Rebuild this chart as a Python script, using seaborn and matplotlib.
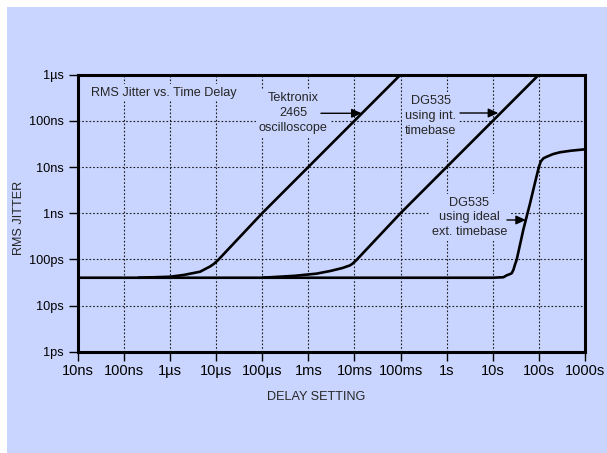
import numpy as np
import pandas as pd
import matplotlib
matplotlib.use("Agg")
import matplotlib.pyplot as plt
from matplotlib.patches import Rectangle
from matplotlib.ticker import FixedLocator, NullLocator
import seaborn as sns

# ---------------- data (seconds) ----------------
x_ticks = [1e-8, 1e-7, 1e-6, 1e-5, 1e-4, 1e-3, 1e-2, 1e-1, 1, 10, 100, 1000]
x_tick_labels = ["10ns", "100ns", "1µs", "10µs", "100µs", "1ms", "10ms",
                 "100ms", "1s", "10s", "100s", "1000s"]
y_ticks = [1e-12, 1e-11, 1e-10, 1e-9, 1e-8, 1e-7, 1e-6]
y_tick_labels = ["1ps", "10ps", "100ps", "1ns", "10ns", "100ns", "1µs"]

tek_delay = [2e-7, 1e-6, 2e-6, 4.5e-6, 7.4e-6, 9e-6, 1.1e-5, 1e-4, 1e-3, 0.1]
tek_jitter = [40e-12, 42e-12, 46e-12, 54e-12, 70e-12, 80e-12, 96e-12, 1e-9, 1e-8, 1e-6]

int_delay = [1e-4, 5e-4, 1.5e-3, 3e-3, 5.5e-3, 8e-3, 9e-3, 1.1e-2, 0.1, 1, 100]
int_jitter = [40e-12, 44e-12, 49e-12, 56e-12, 65e-12, 74e-12, 80e-12, 96e-12, 1e-9, 1e-8, 1e-6]

ext_delay = [1e-8, 10, 17, 20, 23.6, 25.7, 28, 30.2, 33, 46, 64, 89, 100,
             110, 126, 148, 200, 288, 500, 1000]
ext_jitter = [40e-12, 40e-12, 41e-12, 45e-12, 48e-12, 50e-12, 59e-12, 76e-12,
              98e-12, 0.44e-9, 1.6e-9, 6.3e-9, 10e-9, 13.2e-9, 15.5e-9,
              16.7e-9, 19e-9, 20.9e-9, 22.6e-9, 24.2e-9]

LAV = "#C9D5FE"

sns.set_style("ticks")
plt.rcParams["font.family"] = ["Liberation Sans", "DejaVu Sans"]

fig = plt.figure(figsize=(6.07, 4.53), dpi=100)
fig.patch.set_facecolor("white")
fig.add_artist(Rectangle((7 / 607, 0), 600 / 607, 446 / 453,
                         transform=fig.transFigure, facecolor=LAV,
                         edgecolor="none", zorder=0))

W, H = 607, 453
x0, x1, y0, y1 = 77.7, 585.0, 74.7, 351.7
ax = fig.add_axes([x0 / W, 1 - y1 / H, (x1 - x0) / W, (y1 - y0) / H])
ax.set_facecolor(LAV)

series = [
    (tek_delay, tek_jitter, "Tektronix 2465"),
    (int_delay, int_jitter, "DG535 int"),
    (ext_delay, ext_jitter, "DG535 ext"),
]
for d, j, name in series:
    df = pd.DataFrame({"delay": d, "jitter": j})
    sns.lineplot(data=df, x="delay", y="jitter", ax=ax, color="black",
                 linewidth=1.9, sort=False, estimator=None,
                 solid_capstyle="butt", solid_joinstyle="round", zorder=2)

ax.set_xscale("log")
ax.set_yscale("log")
ax.set_xlim(1e-8, 1e3)
ax.set_ylim(1e-12, 1e-6)

ax.xaxis.set_major_locator(FixedLocator(x_ticks))
ax.yaxis.set_major_locator(FixedLocator(y_ticks))
ax.xaxis.set_minor_locator(NullLocator())
ax.yaxis.set_minor_locator(NullLocator())
ax.set_xticklabels(x_tick_labels, fontsize=10.5)
ax.set_yticklabels(y_tick_labels, fontsize=9.2)
ax.tick_params(axis="x", direction="out", length=6.5, width=1.0, pad=2.5,
               colors="black")
ax.tick_params(axis="y", direction="out", length=6.3, width=1.0, pad=4.0,
               colors="black")

for s in ax.spines.values():
    s.set_visible(True)
    s.set_linewidth(2.2)
    s.set_color("black")

ax.set_axisbelow(True)
ax.grid(True, which="major", color="#1a1a1a", linestyle=(0, (1.5, 1.8)),
        linewidth=0.8)

ax.set_xlabel("DELAY SETTING", fontsize=9.1)
ax.set_ylabel("RMS JITTER", fontsize=9.1)
ax.xaxis.set_label_coords((316 - x0) / (x1 - x0), 1 - (396.7 - y0) / (y1 - y0))
ax.yaxis.set_label_coords((19 - x0) / (x1 - x0), 1 - (218.3 - y0) / (y1 - y0))
ax.xaxis.label.set_va("center")
ax.yaxis.label.set_va("center")

box = dict(facecolor=LAV, edgecolor="none", pad=2.0)
ax.text((90.7 - x0) / (x1 - x0), 1 - (92.7 - y0) / (y1 - y0),
        "RMS Jitter vs. Time Delay", transform=ax.transAxes, fontsize=9.1,
        ha="left", va="center", bbox=box, zorder=3)

ax.text(4.73e-4, 1.48e-7, "Tektronix\n2465\noscilloscope", fontsize=9.1,
        ha="center", va="center", multialignment="center", linespacing=1.33,
        bbox=box, zorder=3)
ax.text(0.451, 1.28e-7, "DG535\nusing int.\ntimebase", fontsize=9.1,
        ha="center", va="center", multialignment="center", linespacing=1.3,
        bbox=box, zorder=3)
ax.text(3.10, 8.07e-10, "DG535\nusing ideal\next. timebase", fontsize=9.1,
        ha="center", va="center", multialignment="center", linespacing=1.3,
        bbox=box, zorder=3)

arrow = dict(arrowstyle="-|>,head_length=0.6,head_width=0.27", color="black",
             lw=1.0, shrinkA=0, shrinkB=0, mutation_scale=10)
ax.annotate("", xy=(1.44e-2, 1.46e-7), xytext=(1.88e-3, 1.46e-7),
            arrowprops=arrow, zorder=4)
ax.annotate("", xy=(13.2, 1.48e-7), xytext=(1.95, 1.48e-7),
            arrowprops=arrow, zorder=4)
ax.annotate("", xy=(52.5, 7.13e-10), xytext=(20.3, 7.13e-10),
            arrowprops=arrow, zorder=4)

fig.savefig("out.png", dpi=100, facecolor=fig.get_facecolor())
